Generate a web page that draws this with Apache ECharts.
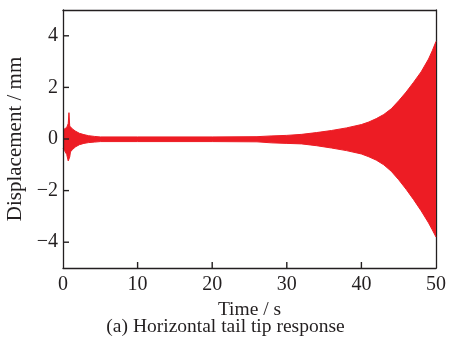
<!DOCTYPE html>
<html>
<head>
<meta charset="utf-8">
<script src="https://cdn.jsdelivr.net/npm/echarts@6/dist/echarts.min.js"></script>
<style>
  html, body { margin: 0; padding: 0; background: #fff; }
  #chart { width: 451px; height: 345px; }
</style>
</head>
<body>
<div id="chart"></div>
<script>
// Response envelope of the horizontal tail tip: time (s) and the upper / lower
// bounds of the oscillating displacement (mm).
const time  = [0, 0.2, 0.5, 0.7, 0.8, 0.9, 1.0, 1.3, 1.7, 2.2, 2.8, 3.4, 4.2, 5, 10, 20, 26, 28, 30, 32, 34, 36, 38, 40, 41, 42, 43, 44, 45, 46, 47, 48, 49, 49.5, 50];
const upper = [0.35, 0.4, 0.45, 0.6, 1.02, 0.5, 0.45, 0.38, 0.3, 0.22, 0.17, 0.13, 0.1, 0.08, 0.08, 0.08, 0.09, 0.12, 0.14, 0.18, 0.25, 0.33, 0.43, 0.56, 0.66, 0.79, 0.95, 1.17, 1.48, 1.82, 2.2, 2.6, 3.1, 3.42, 3.78];
const lower = [-0.35, -0.45, -0.6, -0.85, -0.8, -0.7, -0.5, -0.4, -0.3, -0.22, -0.17, -0.14, -0.12, -0.1, -0.1, -0.1, -0.11, -0.15, -0.17, -0.19, -0.26, -0.35, -0.45, -0.58, -0.69, -0.82, -1.0, -1.25, -1.58, -1.95, -2.35, -2.78, -3.25, -3.52, -3.8];

// Axis ranges and inward tick marks
const xRange = [0, 50], xStep = 10;
const yRange = [-5, 5], ySplits = 5;
const xTicks = [10, 20, 30, 40];
const yTicks = [-4, -2, 0, 2, 4];

const FONT = 'Liberation Serif';
const INK = '#231f20';
const RED = '#ed1c24';
const TICK_LEN = 6;

const upperData = time.map((t, i) => [t, upper[i]]);
const lowerData = time.map((t, i) => [t, lower[i]]);

// Each bound is filled back to zero, so together they form the solid band.
const envelope = (name, data) => ({
  name,
  type: 'line',
  data,
  showSymbol: false,
  silent: true,
  lineStyle: { color: RED, width: 1 },
  areaStyle: { color: RED, opacity: 1, origin: 0 },
  z: 2
});

// Inward ticks on the bottom (kind 0) and left (kind 1) frame edges.
const tickData = xTicks.map(v => [v, 0]).concat(yTicks.map(v => [v, 1]));
const tickSeries = {
  type: 'custom',
  coordinateSystem: 'cartesian2d',
  silent: true,
  clip: false,
  z: 6,
  data: tickData,
  encode: { x: -1, y: -1 },
  renderItem: (params, api) => {
    const v = api.value(0);
    const kind = api.value(1);
    const p = kind === 0 ? api.coord([v, yRange[0]]) : api.coord([xRange[0], v]);
    const shape = kind === 0
      ? { x1: p[0], y1: p[1], x2: p[0], y2: p[1] - TICK_LEN }
      : { x1: p[0], y1: p[1], x2: p[0] + TICK_LEN, y2: p[1] };
    return { type: 'line', shape, style: { stroke: INK, lineWidth: 1.4 } };
  }
};

const frameLine = { show: true, onZero: false, lineStyle: { color: INK, width: 1.3 } };
// top and right edges of the frame: line only
const edge = (position, range) => ({
  type: 'value', position, min: range[0], max: range[1],
  axisLine: frameLine, axisTick: { show: false }, axisLabel: { show: false }, splitLine: { show: false }
});

const chart = echarts.init(document.getElementById('chart'), null, { renderer: 'canvas' });
chart.setOption({
  animation: false,
  backgroundColor: '#fff',
  textStyle: { fontFamily: FONT, color: INK },
  title: {
    text: '(a) Horizontal tail tip response',
    left: 'center',
    top: 312,
    textStyle: { fontFamily: FONT, fontSize: 19.5, fontWeight: 'normal', color: INK }
  },
  grid: {
    left: 63, right: 15, top: 10, bottom: 77,
    outerBoundsMode: 'none',
    containLabel: false,
    show: false
  },
  xAxis: [{
    type: 'value',
    position: 'bottom',
    min: xRange[0], max: xRange[1], interval: xStep,
    name: 'Time / s',
    nameLocation: 'middle',
    nameGap: 30,
    nameTextStyle: { fontFamily: FONT, fontSize: 19.5, color: INK },
    axisLine: frameLine,
    axisTick: { show: false },
    axisLabel: { fontFamily: FONT, fontSize: 20, color: INK, margin: 7 },
    splitLine: { show: false },
    z: 5
  }, edge('top', xRange)],
  yAxis: [{
    type: 'value',
    position: 'left',
    min: yRange[0], max: yRange[1], splitNumber: ySplits,
    name: 'Displacement / mm',
    nameLocation: 'middle',
    nameGap: 26,
    nameTextStyle: { fontFamily: FONT, fontSize: 21, color: INK },
    axisLine: frameLine,
    axisTick: { show: false },
    axisLabel: {
      fontFamily: FONT, fontSize: 20, color: INK, margin: 5,
      showMinLabel: false, showMaxLabel: false,
      formatter: v => (Math.abs(v) === 5 ? '' : v < 0 ? '\u2212' + Math.abs(v) : String(v))
    },
    splitLine: { show: false },
    z: 5
  }, edge('right', yRange)],
  series: [envelope('upper', upperData), envelope('lower', lowerData), tickSeries]
});
</script>
</body>
</html>
